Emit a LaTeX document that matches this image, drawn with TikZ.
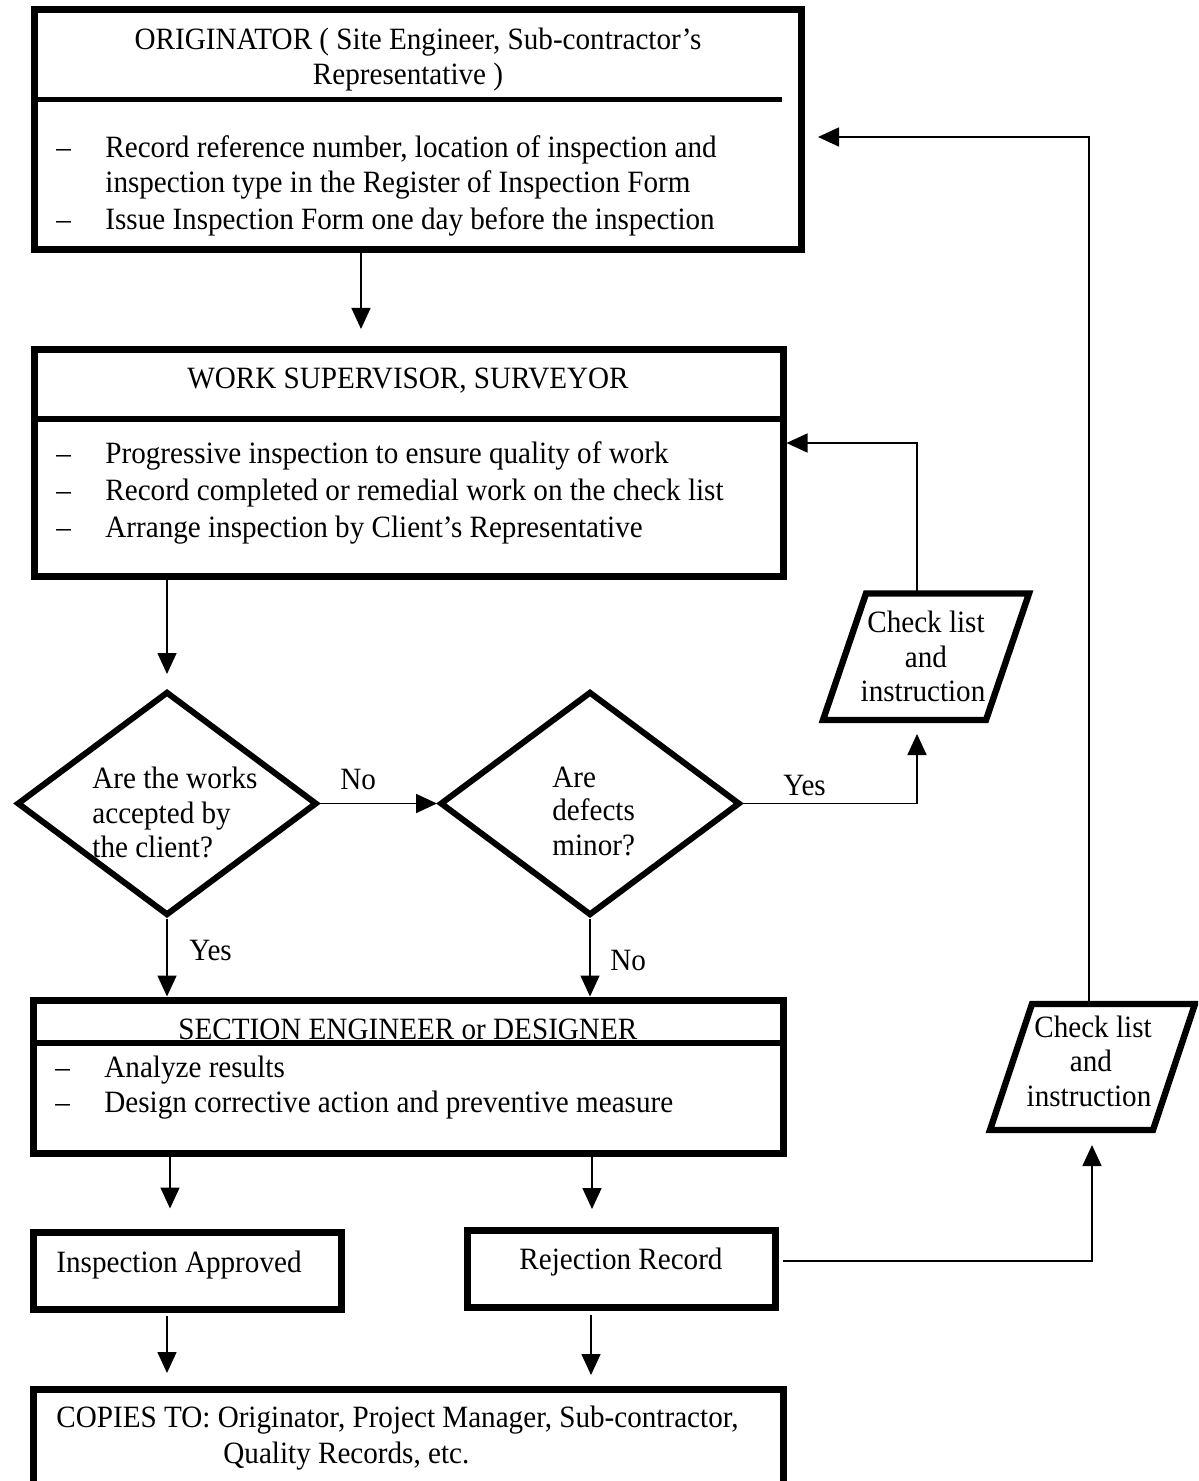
\documentclass[tikz,border=0pt]{standalone}
\usepackage{fontspec}
\setmainfont[FakeStretch=0.94]{Liberation Serif}
\usetikzlibrary{arrows.meta,shapes.geometric}
\begin{document}
\begin{tikzpicture}[x=0.5pt,y=-0.5pt,
  every node/.style={font=\fontsize{15.5pt}{17.5pt}\selectfont, inner sep=0pt},
  boxnode/.style={draw, rectangle, line width=3.5pt, inner sep=0pt},
  decision/.style={draw, diamond, line width=3pt, inner sep=0pt, minimum width=150pt, minimum height=112pt},
  divider/.style={line width=3pt},
  para/.style={line width=3.2pt, line join=miter},
  arr/.style={-{Triangle[length=10.5pt,width=9.5pt]}, line width=0.8pt},
  lbl/.style={anchor=base west},
  ctr/.style={anchor=base}
]
\useasboundingbox (0,0) rectangle (1198,1481);
\clip (0,0) rectangle (1198,1481);

% ---------- boxes ----------
\node[boxnode, minimum width=383.25pt, minimum height=120pt] (b1) at (417.75,130) {};
\draw[divider, line width=2.6pt] (b1.west |- 0,99.5) -- (782,99.5);
\node[ctr] (t1a) at (418,50) {ORIGINATOR ( Site Engineer, Sub-contractor’s};
\node[ctr] (t1b) at (408,85) {Representative )};
\node[lbl] (t1c) at (56,158) {–};
\node[lbl] (t1d) at (105,158) {Record reference number, location of inspection and};
\node[lbl] (t1e) at (105,193) {inspection type in the Register of Inspection Form};
\node[lbl] (t1f) at (56,230) {–};
\node[lbl] (t1g) at (105,230) {Issue Inspection Form one day before the inspection};

\node[boxnode, minimum width=374.25pt, minimum height=113.25pt] (b2) at (408.75,462.75) {};
\draw[divider] (b2.west |- 0,419) -- (b2.east |- 0,419);
\node[ctr] (t2a) at (408,388) {WORK SUPERVISOR, SURVEYOR};
\node[lbl] (t2b) at (56,463) {–};
\node[lbl] (t2c) at (105,463) {Progressive inspection to ensure quality of work};
\node[lbl] (t2d) at (56,500) {–};
\node[lbl] (t2e) at (105,500) {Record completed or remedial work on the check list};
\node[lbl] (t2f) at (56,537) {–};
\node[lbl] (t2g) at (105,537) {Arrange inspection by Client’s Representative};

\node[decision] (d1) at (167,803.5) {};
\node[lbl] (t3a) at (92,788) {Are the works};
\node[lbl] (t3b) at (92,823) {accepted by};
\node[lbl] (t3c) at (92,857) {the client?};

\node[decision] (d2) at (590,803.5) {};
\node[lbl] (t4a) at (552,787) {Are};
\node[lbl] (t4b) at (552,820) {defects};
\node[lbl] (t4c) at (552,855) {minor?};

\node[lbl] (lno1) at (340,789) {No};
\node[lbl] (lyes1) at (783,795) {Yes};
\node[lbl] (lyes2) at (189,960) {Yes};
\node[lbl] (lno2) at (610,970) {No};

% parallelogram 1
\draw[para] (866,593.5) -- (1029,593.5) -- (986,720) -- (823,720) -- cycle;
\node[ctr] (pa1) at (926,632) {Check list};
\node[ctr] (pa2) at (926,667) {and};
\node[ctr] (pa3) at (923,701) {instruction};
\coordinate (p1top) at (917,593.5);
\coordinate (p1bot) at (917,723.5);

% parallelogram 2
\draw[para] (1032,1004) -- (1195,1004) -- (1153,1130) -- (990,1130) -- cycle;
\node[ctr] (pb1) at (1093,1037) {Check list};
\node[ctr] (pb2) at (1091,1071) {and};
\node[ctr] (pb3) at (1089,1106) {instruction};
\coordinate (p2top) at (1089,1004);
\coordinate (p2bot) at (1092,1133.5);

\node[boxnode, minimum width=374.75pt, minimum height=76.5pt] (b3) at (408.25,1076.5) {};
\draw[divider] (b3.west |- 0,1043) -- (b3.east |- 0,1043);
\node[lbl] (t5a) at (178,1039) {SECTION ENGINEER or DESIGNER};
\node[lbl] (t5b) at (55,1077) {–};
\node[lbl] (t5c) at (104,1077) {Analyze results};
\node[lbl] (t5d) at (55,1112) {–};
\node[lbl] (t5e) at (104,1112) {Design corrective action and preventive measure};

\node[boxnode, minimum width=153.75pt, minimum height=38.5pt] (ia) at (187.25,1270.5) {};
\node[lbl] (t6) at (56,1272) {Inspection Approved};

\node[boxnode, minimum width=154pt, minimum height=38.5pt] (rj) at (621,1268.5) {};
\node[ctr] (t7) at (621,1269) {Rejection Record};

\node[boxnode, minimum width=374.75pt, minimum height=60pt] (cp) at (408.25,1449) {};
\node[lbl] (t8a) at (56,1427) {COPIES TO: Originator, Project Manager, Sub-contractor,};
\node[lbl] (t8b) at (223,1463) {Quality Records, etc.};

% ---------- connectors ----------
\coordinate (xA) at (361,0);
\coordinate (xB) at (167,0);
\coordinate (xC) at (170,0);
\coordinate (xD) at (592,0);
\coordinate (xE) at (591,0);
\coordinate (yR) at (0,1261);
\coordinate (yT) at (0,137);
\coordinate (yS) at (0,443);

\draw[arr, shorten >=8.5pt] (b1.south -| xA) -- (b2.north -| xA);
\draw[arr, shorten >=7.25pt] (b2.south -| xB) -- (d1.north);
\draw[arr] (d1.east) -- (d2.west);
\draw[arr, shorten >=5.25pt] (d2.east) -| (p1bot);
\draw[arr] (d1.south) -- (d1.south |- b3.north);
\draw[arr] (d2.south) -- (d2.south |- b3.north);
\draw[arr, shorten >=10pt] (b3.south -| xC) -- (ia.north -| xC);
\draw[arr, shorten >=8.75pt] (b3.south -| xD) -- (rj.north -| xD);
\draw[arr, shorten <=1.75pt, shorten >=6.25pt] (ia.south -| xB) -- (cp.north -| xB);
\draw[arr, shorten <=2.25pt, shorten >=5.25pt] (rj.south -| xE) -- (cp.north -| xE);
\draw[arr, shorten <=2.25pt, shorten >=5.75pt] (rj.east |- yR) -| (p2bot);
\draw[arr, shorten >=6.75pt] (p2top) |- (b1.east |- yT);
\draw[arr] (p1top) |- (b2.east |- yS);
\end{tikzpicture}
\end{document}
